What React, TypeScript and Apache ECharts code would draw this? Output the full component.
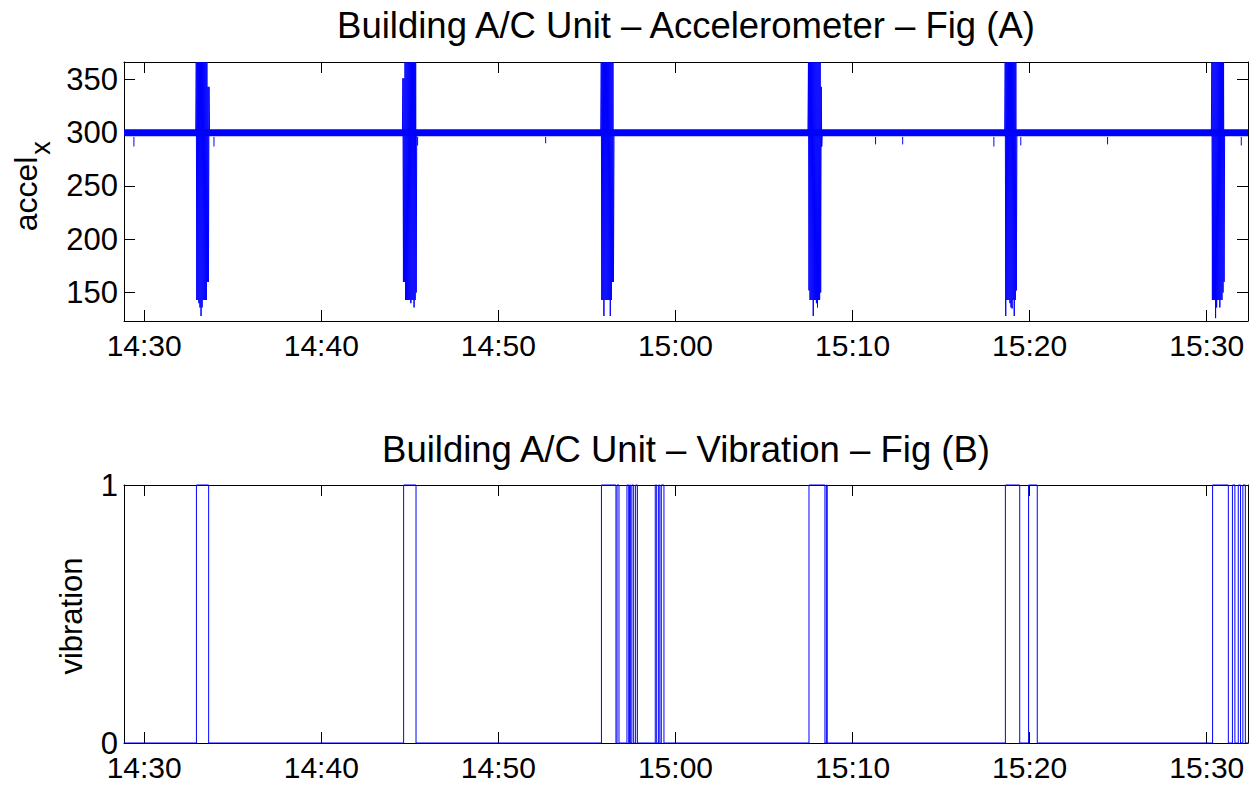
import React, { useEffect, useRef } from "react";
import * as echarts from "echarts";

// Time in minutes after 14:00
const X_MIN = 28.86;
const X_MAX = 92.33;
const ACC_MIN = 123.3;
const ACC_MAX = 366.3;

const xTicks = [30, 40, 50, 60, 70, 80, 90];
const accelTicks = [150, 200, 250, 300, 350];
const vibTicks = [0, 1];

// accelerometer: resting level
const restLevel = 300;
const restBandLow = 296;

// short downward glitches of the resting signal
const dipTimes = [29.42, 33.94, 45.44, 52.67, 68.24, 71.3, 72.83, 77.98, 79.5, 84.4, 91.95];
const dipLows = [287, 287, 288, 290, 287, 289, 289, 287, 288, 289, 288];

// compressor start-up bursts: start time and successive samples
const BURST_STEP = 0.03;
const burstStarts = [32.91, 44.58, 55.78, 67.48, 78.59, 90.26];
const burst1 = [366, 143, 366, 143, 366, 140, 366, 136, 366, 128, 366, 136, 366, 143, 366, 143, 366, 143, 366, 143, 366, 160, 343, 160, 343, 300];
const burst2 = [351, 160, 351, 160, 366, 143, 366, 143, 366, 143, 366, 143, 366, 143, 366, 140, 366, 143, 366, 143, 366, 136, 366, 143, 366, 150, 300];
const burst3 = [366, 143, 366, 143, 366, 128, 366, 143, 366, 143, 366, 143, 366, 143, 366, 143, 366, 128, 366, 143, 366, 160, 366, 160, 300];
const burst4 = [366, 152, 366, 143, 366, 143, 366, 143, 366, 128, 366, 143, 366, 143, 366, 140, 366, 136, 366, 143, 366, 143, 366, 150, 343, 287, 300];
const burst5 = [366, 128, 366, 143, 366, 143, 366, 143, 366, 140, 366, 136, 366, 135, 366, 143, 366, 128, 366, 143, 366, 152, 300];
const burst6 = [366, 143, 366, 143, 366, 143, 366, 126, 366, 136, 366, 143, 366, 143, 366, 136, 366, 143, 366, 143, 366, 150, 366, 160, 300];
const bursts = [burst1, burst2, burst3, burst4, burst5, burst6];

// vibration sensor: on / off switching times
const vibOn = [32.95, 44.65, 55.82, 56.7, 57.26, 57.41, 57.54, 57.75, 58.86, 59.05, 59.2, 67.54, 68.52, 78.63, 79.94, 90.33, 91.45, 91.78, 92.04];
const vibOff = [33.64, 45.35, 56.64, 56.81, 57.36, 57.47, 57.64, 57.85, 58.94, 59.12, 59.35, 68.44, 68.57, 79.44, 80.43, 91.22, 91.59, 91.91, 92.18];

const FONT = '"Liberation Sans", Arial, Helvetica, sans-serif';
const BLUE = "#0000ff";

const fmtTime = (v: number) => {
  const total = Math.round(v);
  const h = 14 + Math.floor(total / 60);
  const m = total % 60;
  return `${h}:${String(m).padStart(2, "0")}`;
};

function xAx(gridIndex: number, position: string, showLabel: boolean) {
  return {
    type: "value",
    gridIndex,
    position,
    min: X_MIN,
    max: X_MAX,
    axisLine: { show: true, onZero: false, lineStyle: { color: "#000", width: 1 } },
    axisTick: { show: true, inside: true, length: 11, customValues: xTicks, lineStyle: { color: "#000", width: 1 } },
    axisLabel: {
      show: showLabel,
      customValues: xTicks,
      formatter: fmtTime,
      margin: 12,
      fontSize: 30,
      lineHeight: 24,
      color: "#000",
      fontFamily: FONT,
    },
    splitLine: { show: false },
  };
}

function yAx(gridIndex: number, position: string, showLabel: boolean, min: number, max: number, ticks: number[]) {
  return {
    type: "value",
    gridIndex,
    position,
    min,
    max,
    axisLine: { show: true, onZero: false, lineStyle: { color: "#000", width: 1 } },
    axisTick: { show: true, inside: true, length: 11, customValues: ticks, lineStyle: { color: "#000", width: 1 } },
    axisLabel: {
      show: showLabel,
      customValues: ticks,
      margin: 6,
      fontSize: 31,
      lineHeight: 20,
      color: "#000",
      fontFamily: FONT,
    },
    splitLine: { show: false },
  };
}

function buildBursts() {
  const out: any[] = [];
  bursts.forEach((vals, i) => {
    const t0 = burstStarts[i];
    out.push([t0, restLevel]);
    vals.forEach((v, k) => out.push([t0 + (k + 1) * BURST_STEP, v]));
    out.push([t0 + (vals.length + 1) * BURST_STEP, "-"]);
  });
  return out;
}

function buildDips() {
  const out: any[] = [];
  dipTimes.forEach((t, i) => {
    out.push([t, restBandLow]);
    out.push([t, dipLows[i]]);
    out.push([t, "-"]);
  });
  return out;
}

function buildVib() {
  const out: any[] = [[X_MIN, 0]];
  vibOn.forEach((on, i) => {
    const off = vibOff[i];
    out.push([on, 0], [on, 1], [off, 1], [off, 0]);
  });
  out.push([X_MAX, 0]);
  return out;
}

export default function App() {
  const ref = useRef<HTMLDivElement>(null);
  useEffect(() => {
    const chart = echarts.init(ref.current!, null, { renderer: "svg" });
    const option: any = {
      animation: false,
      backgroundColor: "#fff",
      grid: [
        { left: 124, top: 62, width: 1124, height: 259 },
        { left: 124, top: 485, width: 1124, height: 258 },
      ],
      xAxis: [xAx(0, "bottom", true), xAx(0, "top", false), xAx(1, "bottom", true), xAx(1, "top", false)],
      yAxis: [
        yAx(0, "left", true, ACC_MIN, ACC_MAX, accelTicks),
        yAx(0, "right", false, ACC_MIN, ACC_MAX, accelTicks),
        yAx(1, "left", true, 0, 1, vibTicks),
        yAx(1, "right", false, 0, 1, vibTicks),
      ],
      series: [
        {
          name: "rest",
          type: "line",
          xAxisIndex: 0,
          yAxisIndex: 0,
          data: [[X_MIN, restLevel], [X_MAX, restLevel]],
          symbol: "none",
          silent: true,
          lineStyle: { color: BLUE, width: 7 },
        },
        {
          name: "dips",
          type: "line",
          xAxisIndex: 0,
          yAxisIndex: 0,
          data: buildDips(),
          symbol: "none",
          silent: true,
          connectNulls: false,
          lineStyle: { color: BLUE, width: 1 },
        },
        {
          name: "accel_x",
          type: "line",
          xAxisIndex: 0,
          yAxisIndex: 0,
          data: buildBursts(),
          symbol: "none",
          silent: true,
          connectNulls: false,
          lineStyle: { color: BLUE, width: 1, join: "bevel" },
        },
        {
          name: "vibration",
          type: "line",
          xAxisIndex: 2,
          yAxisIndex: 2,
          data: buildVib(),
          symbol: "none",
          silent: true,
          clip: false,
          lineStyle: { color: BLUE, width: 1 },
        },
      ],
      graphic: [
        {
          type: "text",
          x: 686,
          y: 25,
          style: {
            text: "Building A/C Unit – Accelerometer – Fig (A)",
            fontSize: 36.5,
            fontFamily: FONT,
            fill: "#000",
            textAlign: "center",
            textVerticalAlign: "middle",
          },
        },
        {
          type: "text",
          x: 686,
          y: 449,
          style: {
            text: "Building A/C Unit – Vibration – Fig (B)",
            fontSize: 36.5,
            fontFamily: FONT,
            fill: "#000",
            textAlign: "center",
            textVerticalAlign: "middle",
          },
        },
        {
          type: "text",
          x: 26,
          y: 194,
          rotation: Math.PI / 2,
          style: {
            text: "accel",
            fontSize: 32,
            fontFamily: FONT,
            fill: "#000",
            textAlign: "center",
            textVerticalAlign: "middle",
          },
        },
        {
          type: "text",
          x: 40.5,
          y: 148,
          rotation: Math.PI / 2,
          style: {
            text: "x",
            fontSize: 27,
            fontFamily: FONT,
            fill: "#000",
            textAlign: "center",
            textVerticalAlign: "middle",
          },
        },
        {
          type: "text",
          x: 71.6,
          y: 616,
          rotation: Math.PI / 2,
          style: {
            text: "vibration",
            fontSize: 31,
            fontFamily: FONT,
            fill: "#000",
            textAlign: "center",
            textVerticalAlign: "middle",
          },
        },
      ],
    };
    chart.setOption(option);
    return () => chart.dispose();
  }, []);
  return (
    <div
      ref={ref}
      style={{ position: "fixed", left: 0, top: 0, width: 1256, height: 787, background: "#fff" }}
    />
  );
}
